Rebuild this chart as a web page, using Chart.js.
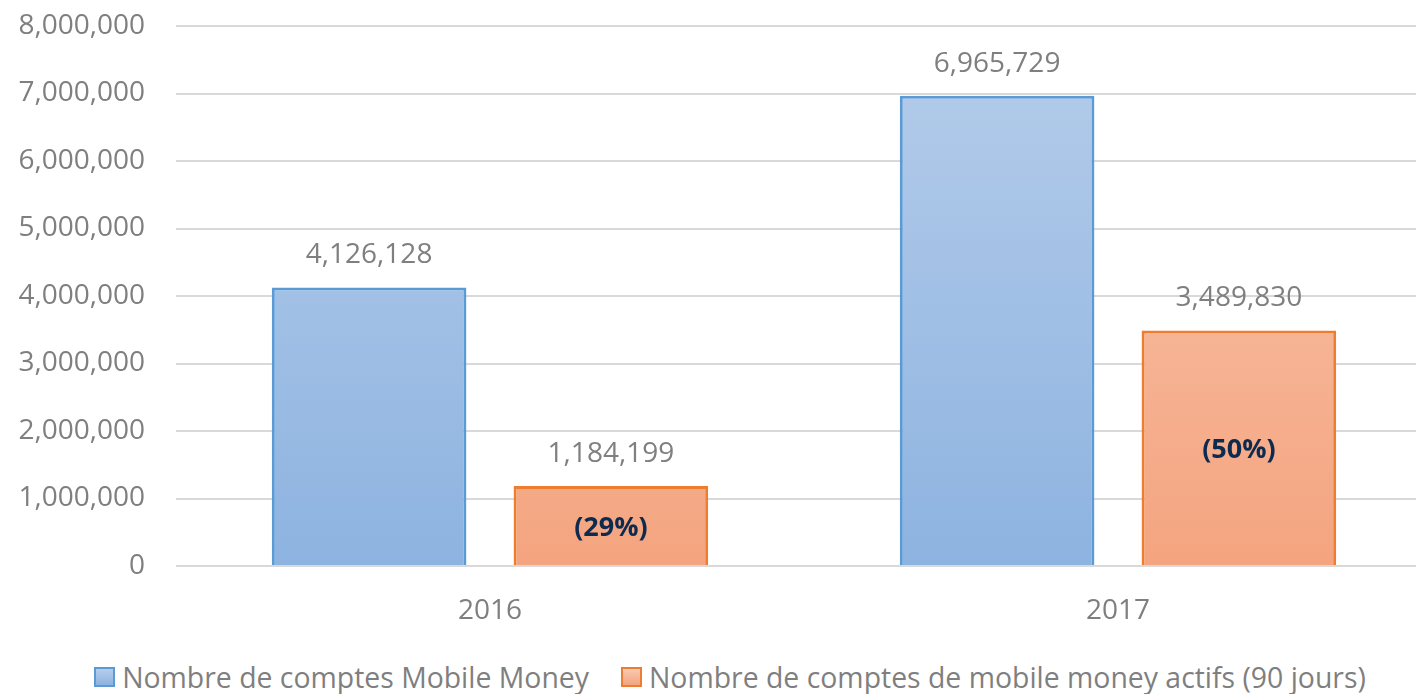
<!DOCTYPE html>
<html>
<head>
<meta charset="utf-8">
<script src="https://cdn.jsdelivr.net/npm/chart.js@4.4.1/dist/chart.umd.min.js"></script>
<style>
  html, body { margin: 0; padding: 0; background: #fff; overflow: hidden; }
  #wrap { position: relative; width: 1416px; height: 652px; overflow: hidden; }
  #legend {
    display: flex; justify-content: center; align-items: center;
    width: 1416px; height: 42px; padding: 7px 0 0 44px; box-sizing: border-box;
    font-family: "Open Sans", sans-serif; font-size: 28.4px; color: #7f7f7f;
  }
  .item { display: flex; align-items: center; margin: 0 16px; white-space: nowrap; }
  .box { width: 21px; height: 20px; margin-right: 7px; box-sizing: border-box; border: 2px solid; }
</style>
</head>
<body>
<div id="wrap"><canvas id="myChart" width="1432" height="652"></canvas></div>
<div id="legend"></div>
<script>
var years = ['2016', '2017'];
var totalAccounts = [4126128, 6965729];
var activeAccounts = [1184199, 3489830];
var seriesNames = ['Nombre de comptes Mobile Money', 'Nombre de comptes de mobile money actifs (90 jours)'];

var grey = '#7f7f7f';

function gradient(chart, top, bottom) {
  var area = chart.chartArea;
  if (!area) return bottom;
  var g = chart.ctx.createLinearGradient(0, area.top, 0, area.bottom);
  g.addColorStop(0, top);
  g.addColorStop(1, bottom);
  return g;
}

// values above bars, share of active accounts inside orange bars
var labelPlugin = {
  id: 'barLabels',
  afterDatasetsDraw: function(chart) {
    var ctx = chart.ctx;
    ctx.save();
    ctx.textAlign = 'center';
    ctx.textBaseline = 'middle';
    chart.data.datasets.forEach(function(ds, i) {
      var meta = chart.getDatasetMeta(i);
      meta.data.forEach(function(bar, j) {
        ctx.fillStyle = grey;
        ctx.font = '28px "Open Sans"';
        ctx.fillText(ds.data[j].toLocaleString('en-US'), bar.x, bar.y - 32);
        if (i === 1) {
          var pct = Math.round(activeAccounts[j] / totalAccounts[j] * 100);
          ctx.fillStyle = '#0d2a4f';
          ctx.font = 'bold 27px "Open Sans"';
          ctx.fillText('(' + pct + '%)', bar.x, (bar.y + bar.base) / 2 + 3);
        }
      });
    });
    ctx.restore();
  }
};

var ctxDir = document.getElementById('myChart');
var barChart = new Chart(ctxDir, {
  type: 'bar',
  data: {
    labels: years,
    datasets: [{
      label: seriesNames[0],
      data: totalAccounts,
      backgroundColor: function(c) { return gradient(c.chart, '#b6cdea', '#8db3e0'); },
      borderColor: '#5b9bd5',
      borderWidth: 3,
      borderSkipped: 'bottom'
    }, {
      label: seriesNames[1],
      data: activeAccounts,
      backgroundColor: function(c) { return gradient(c.chart, '#f9c9b2', '#f4a47f'); },
      borderColor: '#ed7d31',
      borderWidth: 3,
      borderSkipped: 'bottom'
    }]
  },
  options: {
    responsive: false,
    animation: false,
    categoryPercentage: 0.77,
    barPercentage: 0.805,
    layout: { padding: 0 },
    plugins: {
      legend: { display: false },
      tooltip: { enabled: false }
    },
    scales: {
      x: {
        grid: { display: false },
        border: { display: false },
        ticks: { color: grey, font: { family: 'Open Sans', size: 28 }, padding: 20 },
        afterFit: function(scale) { scale.height = 86; }
      },
      y: {
        min: 0,
        max: 8000000,
        grid: { color: '#d9d9d9', lineWidth: 2, drawTicks: false },
        border: { display: false },
        ticks: {
          stepSize: 1000000,
          color: grey,
          font: { family: 'Open Sans', size: 28 },
          padding: 31,
          callback: function(v) { return v.toLocaleString('en-US'); }
        },
        afterFit: function(scale) {
          scale.width = 176;
          scale.paddingTop = 26;
          scale.paddingBottom = 20;
        }
      }
    }
  },
  plugins: [labelPlugin]
});

// legend below the canvas
var legendColors = [['#5b9bd5', 'linear-gradient(#b6cdea,#8db3e0)'], ['#ed7d31', 'linear-gradient(#f9c9b2,#f4a47f)']];
var legendDiv = document.getElementById('legend');
seriesNames.forEach(function(name, i) {
  var item = document.createElement('div');
  item.className = 'item';
  var box = document.createElement('span');
  box.className = 'box';
  box.style.borderColor = legendColors[i][0];
  box.style.background = legendColors[i][1];
  item.appendChild(box);
  item.appendChild(document.createTextNode(name));
  legendDiv.appendChild(item);
});
</script>
</body>
</html>
